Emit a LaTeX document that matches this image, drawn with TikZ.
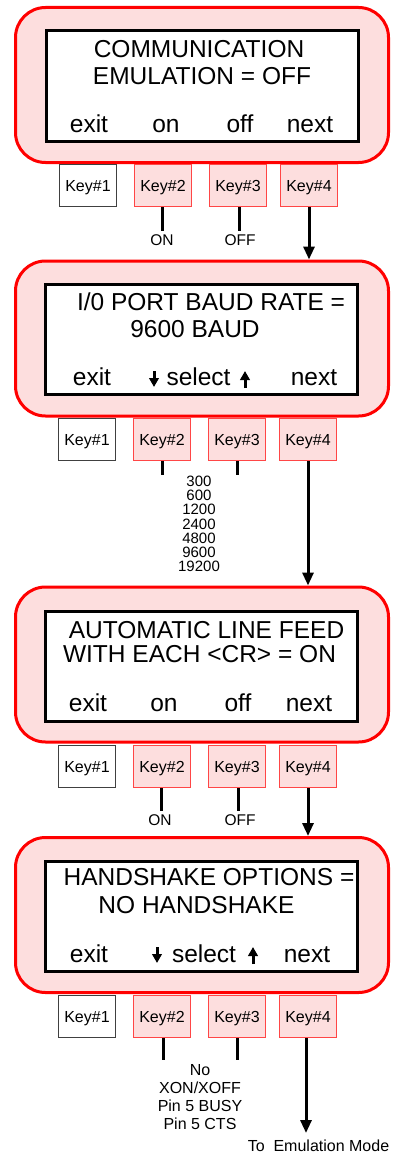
\documentclass[tikz,border=0pt]{standalone}
\usepackage{fontspec}
\setmainfont{Liberation Sans}
\usetikzlibrary{arrows.meta}
\definecolor{pinkfill}{RGB}{253,222,222}
\definecolor{keyred}{RGB}{255,70,70}
\begin{document}
\begin{tikzpicture}[x=1pt,y=-1pt,
  panel/.style={draw=red, fill=pinkfill, line width=3pt, rounded corners=30pt, minimum width=373pt, minimum height=155pt, inner sep=0pt},
  screen/.style={draw=black, fill=white, line width=3pt, minimum width=312pt, minimum height=110pt, inner sep=0pt},
  big/.style={font=\fontsize{24.5}{28}\selectfont, inner sep=0pt, anchor=base},
  keybox/.style={draw=keyred, fill=pinkfill, line width=1pt, minimum width=57pt, minimum height=42pt, inner sep=0pt, font=\fontsize{16}{18}\selectfont, text height=11.5pt, text depth=0pt},
  keyplain/.style={keybox, draw=black!75, fill=white},
  stub/.style={line width=3pt},
  flow/.style={line width=3pt, -{Triangle[width=11pt,length=13pt]}},
  sel/.style={line width=3pt, -{Triangle[width=9.5pt,length=9pt]}},
  small/.style={font=\fontsize{15.5}{18}\selectfont, inner sep=0pt, anchor=base},
  baudtxt/.style={font=\fontsize{15}{18}\selectfont, inner sep=0pt, anchor=base},
  hstxt/.style={font=\fontsize{16}{18}\selectfont, inner sep=0pt, anchor=base},
]
\useasboundingbox (0,0) rectangle (400,1153);

% ---------- Panel 1 ----------
\node[panel] (p1) at (202,85) {};
\node[screen] (s1) at (202.5,86) {};
\node[big] (t1a) at (199,57.3) {COMMUNICATION};
\node[big] (t1b) at (202,85) {EMULATION = OFF};
\node[big] (b1a) at (89,132.7) {exit};
\node[big] (b1b) at (166,132.7) {on};
\node[big] (b1c) at (240,132.7) {off};
\node[big] (b1d) at (310,132.7) {next};
\node[keyplain] (k11) at (88,185.5) {Key\#1};
\node[keybox] (k12) at (163,185.5) {Key\#2};
\node[keybox] (k13) at (238,185.5) {Key\#3};
\node[keybox] (k14) at (309,185.5) {Key\#4};
\coordinate (e12) at (162,231);
\coordinate (e13) at (239,231);
\draw[stub] (k12.south -| e12) -- (e12);
\draw[stub] (k13.south -| e13) -- (e13);
\node[small] (l12) at (162,245) {ON};
\node[small] (l13) at (240,245) {OFF};

% ---------- Panel 2 ----------
\node[panel] (p2) at (202,338.5) {};
\node[screen] (s2) at (201.5,339) {};
\node[big] (t2a) at (211,310.7) {I/0 PORT BAUD RATE =};
\node[big] (t2b) at (195,337.3) {9600 BAUD};
\node[big] (b2a) at (92,385.7) {exit};
\node[big] (b2b) at (198.5,385.7) {select};
\node[big] (b2d) at (314,385.7) {next};
\coordinate (d2a) at (154,371);
\coordinate (d2b) at (154,387);
\coordinate (u2a) at (245,388);
\coordinate (u2b) at (245,371);
\draw[sel] (d2a) -- (d2b);
\draw[sel] (u2a) -- (u2b);
\node[keyplain] (k21) at (87,439.5) {Key\#1};
\node[keybox] (k22) at (162,439.5) {Key\#2};
\node[keybox] (k23) at (237,439.5) {Key\#3};
\node[keybox] (k24) at (308,439.5) {Key\#4};
\coordinate (e22) at (162,475);
\coordinate (e23) at (237,475);
\draw[stub] (k22.south -| e22) -- (e22);
\draw[stub] (k23.south -| e23) -- (e23);
\foreach \v [count=\i from 0] in {300,600,1200,2400,4800,9600,19200}
  \node[baudtxt] (baud\i) at (199,486.7+14.1*\i) {\v};

% ---------- Panel 3 ----------
\node[panel] (p3) at (202,664.5) {};
\node[screen] (s3) at (201.5,666.5) {};
\node[big] (t3a) at (206.5,638.3) {AUTOMATIC LINE FEED};
\node[big] (t3b) at (199.5,662.7) {WITH EACH <CR> = ON};
\node[big] (b3a) at (88,711.7) {exit};
\node[big] (b3b) at (164,711.7) {on};
\node[big] (b3c) at (238,711.7) {off};
\node[big] (b3d) at (309,711.7) {next};
\node[keyplain] (k31) at (87,766.5) {Key\#1};
\node[keybox] (k32) at (162,766.5) {Key\#2};
\node[keybox] (k33) at (237,766.5) {Key\#3};
\node[keybox] (k34) at (308,766.5) {Key\#4};
\coordinate (e32) at (161,811);
\coordinate (e33) at (238,811);
\draw[stub] (k32.south -| e32) -- (e32);
\draw[stub] (k33.south -| e33) -- (e33);
\node[small] (l32) at (160,825) {ON};
\node[small] (l33) at (240,825) {OFF};

% ---------- Panel 4 ----------
\node[panel] (p4) at (202,915) {};
\node[screen] (s4) at (201.5,916) {};
\node[big] (t4a) at (209,885) {HANDSHAKE OPTIONS =};
\node[big] (t4b) at (196.5,913.3) {NO HANDSHAKE};
\node[big] (b4a) at (89,962.3) {exit};
\node[big] (b4b) at (204,962.3) {select};
\node[big] (b4d) at (307,962.3) {next};
\coordinate (d4a) at (157,947);
\coordinate (d4b) at (157,963);
\coordinate (u4a) at (253,964);
\coordinate (u4b) at (253,947);
\draw[sel] (d4a) -- (d4b);
\draw[sel] (u4a) -- (u4b);
\node[keyplain] (k41) at (87,1016.5) {Key\#1};
\node[keybox] (k42) at (162,1016.5) {Key\#2};
\node[keybox] (k43) at (237,1016.5) {Key\#3};
\node[keybox] (k44) at (308,1016.5) {Key\#4};
\coordinate (e42) at (163,1060);
\coordinate (e43) at (237,1060);
\draw[stub] (k42.south -| e42) -- (e42);
\draw[stub] (k43.south -| e43) -- (e43);
\node[hstxt] (hs0) at (200,1075) {No};
\node[hstxt] (hs1) at (200,1093.2) {XON/XOFF};
\node[hstxt] (hs2) at (200,1111.4) {Pin 5 BUSY};
\node[hstxt] (hs3) at (200,1129.4) {Pin 5 CTS};
\coordinate (end) at (306,1133);
\node[hstxt] (toem) at (318.5,1151.7) {To\ \ Emulation Mode};

% ---------- flow arrows ----------
\draw[flow] (k14.south) -- (k14.south |- p2.north);
\draw[flow] (k24.south) -- (k24.south |- p3.north);
\draw[flow] (k34.south) -- (k34.south |- p4.north);
\draw[flow] (k44.south -| end) -- (end);
\end{tikzpicture}
\end{document}
